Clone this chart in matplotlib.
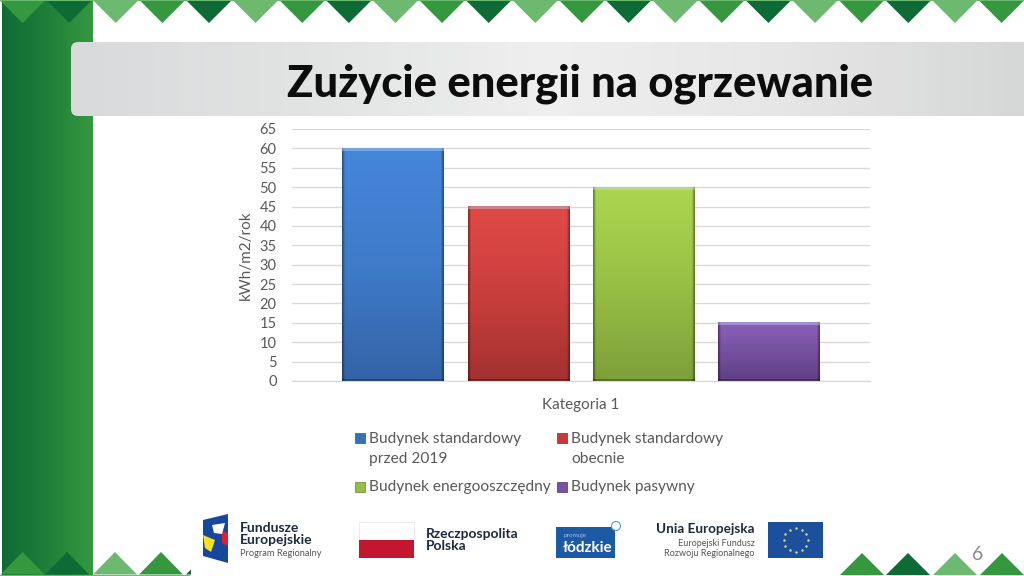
import matplotlib
import matplotlib.pyplot as plt
import numpy as np
from matplotlib.colors import LinearSegmentedColormap
from matplotlib.patches import FancyBboxPatch, Polygon, Rectangle

matplotlib.use("agg")

plt.rcParams["font.family"] = ["Lato", "DejaVu Sans"]

# chart data
series_names = [
    "Budynek standardowy\nprzed 2019",
    "Budynek standardowy\nobecnie",
    "Budynek energooszczędny",
    "Budynek pasywny",
]
series_values = [60, 45, 50, 15]
category_label = "Kategoria 1"
y_ticks = list(range(0, 70, 5))
y_label = "kWh/m2/rok"
title = "Zużycie energii na ogrzewanie"

# bar shading, top to bottom
bar_shades = [
    ["#4586da", "#3f7bc9", "#3464a6"],
    ["#e04a46", "#c93f3d", "#a33130"],
    ["#acd650", "#98c045", "#7d9f3a"],
    ["#8c5fba", "#77509f", "#5f3f85"],
]
legend_colors = ["#3a70b5", "#c23a3a", "#98bf45", "#7a52a5"]
legend_spots = [(355, 438), (557, 438), (355, 487), (557, 487)]

TRIANGLES = ["#35983f", "#0f6b35", "#6db96f"]


def draw_gradient(ax, extent, colors, horizontal=False, clip=None, zorder=1):
    cmap = LinearSegmentedColormap.from_list("grad", colors)
    grad = np.linspace(0, 1, 256)
    grad = grad[None, :] if horizontal else grad[:, None]
    im = ax.imshow(grad, extent=extent, cmap=cmap, aspect="auto", zorder=zorder,
                   interpolation="bilinear")
    if clip is not None:
        im.set_clip_path(clip)
    return im


def shaded_bar(ax, rect, colors, px_w, px_h):
    """
    Paint a bar with a vertical gradient, dark sides and a light top edge
    """
    cmap = LinearSegmentedColormap.from_list("bar", colors)
    rows = int(px_h)
    cols = int(px_w)
    img = cmap(np.linspace(0, 1, rows))[:, None, :3].repeat(cols, axis=1)
    side = np.ones(cols)
    side[:3] = [0.62, 0.75, 0.9]
    side[-3:] = [0.9, 0.75, 0.62]
    img = img * side[None, :, None]
    img[:3] = img[:3] * 0.6 + 0.4 * np.array([0.75, 0.85, 0.95])
    img[-2:] = img[-2:] * 0.7
    left, width = rect.get_x(), rect.get_width()
    ax.imshow(np.clip(img, 0, 1), extent=(left, left + width, 0, rect.get_height()),
              aspect="auto", zorder=2, interpolation="nearest")


fig = plt.figure(figsize=(10.24, 5.76), dpi=100, facecolor="white")

#   Slide decoration, in pixel coordinates
bg = fig.add_axes([0, 0, 1, 1])
bg.set_axis_off()

draw_gradient(bg, (1.5, 92.5, 576, 0), ["#0f6b35", "#1f7f3a", "#35983f"], horizontal=True)

# top row of triangles
for i in range(22):
    left = 0.5 + i * 46.62
    bg.add_patch(Polygon([(left, 1), (left + 44, 1), (left + 22, 23)],
                         color=TRIANGLES[i % 3], lw=0, zorder=2))
bg.add_patch(Rectangle((0, 0), 1024, 1.2, color="#6db96f", lw=0, zorder=3))

# bottom left triangles
for left, color in zip([0.5, 45, 93, 139, 186], TRIANGLES * 2):
    bg.add_patch(Polygon([(left, 574.5), (left + 44, 574.5), (left + 22, 552)], color=color, lw=0, zorder=2))
bg.add_patch(Rectangle((0, 574.5), 190, 1.5, color="#6db96f", lw=0, zorder=3))
bg.add_patch(Rectangle((191, 540), 640, 36, color="white", lw=0, zorder=3))

# bottom right triangles
for left, color in zip([840, 886, 933, 980], TRIANGLES + TRIANGLES[:1]):
    bg.add_patch(Polygon([(left, 575), (left + 44, 575), (left + 22, 553)], color=color, lw=0, zorder=2))

# title bar
bar = FancyBboxPatch((71, 42), 975, 74, boxstyle="round,pad=0,rounding_size=7",
                     mutation_aspect=1, fc="none", ec="none", zorder=4)
bg.add_patch(bar)
draw_gradient(bg, (71, 1024, 116, 41), ["#d9dadb", "#e2e3e3", "#efefef", "#e6e6e6", "#d6d7d7"],
              horizontal=True, clip=bar, zorder=4)
bg.text(580.5, 84, title, ha="center", va="center", fontsize=31.3, fontweight=900,
        color="#0c0c0c", zorder=5)

# page number
bg.text(978, 554, "6", ha="center", va="center", fontsize=14, color="#8a8a8a", zorder=5)

# Fundusze Europejskie logo
bg.add_patch(Polygon([(203, 520), (228, 514), (228, 563), (203, 556)], color="#17469e", lw=0, zorder=5))
bg.add_patch(Polygon([(203, 535), (215, 540), (211, 552), (205, 548)], color="#f5e11c", lw=0, zorder=6))
bg.add_patch(Polygon([(222, 531), (228, 533), (228, 546), (222, 543)], color="#d9232e", lw=0, zorder=6))
bg.add_patch(Polygon([(212, 525), (225, 523), (222, 534), (214, 533)], color="#ffffff", lw=0, zorder=6))
bg.text(240, 528, "Fundusze", fontsize=10, fontweight="bold", color="#1b2a3c", va="center", zorder=6)
bg.text(240, 540.5, "Europejskie", fontsize=10, fontweight="bold", color="#1b2a3c", va="center", zorder=6)
bg.text(240, 554, "Program Regionalny", fontsize=6.7, color="#555555", va="center", zorder=6)

# Polish flag
bg.add_patch(Rectangle((359, 522), 55, 18, fc="white", ec="#e6e6e6", lw=0.6, zorder=5))
bg.add_patch(Rectangle((359, 540), 55, 18, color="#c4162f", lw=0, zorder=5))
bg.text(426, 534, "Rzeczpospolita", fontsize=10, fontweight="bold", color="#1b2a3c", va="center", zorder=6)
bg.text(426, 546.5, "Polska", fontsize=10, fontweight="bold", color="#1b2a3c", va="center", zorder=6)

# lodzkie logo
bg.add_patch(Rectangle((556, 527), 59, 31, color="#1d5aa5", lw=0, zorder=5))
bg.text(563, 535, "promuje", fontsize=4.5, color="#9cc3e8", va="center", zorder=6)
bg.text(563, 548, "łódzkie", fontsize=11, fontweight="bold", color="white", va="center", zorder=6)
bg.add_patch(plt.Circle((616, 526), 4.5, fc="white", ec="#5a9ad5", lw=0.8, zorder=6))

# EU logo
bg.text(755, 529, "Unia Europejska", fontsize=9.7, fontweight="bold", color="#1b2a3c", ha="right", va="center", zorder=6)
bg.text(755, 543, "Europejski Fundusz", fontsize=6.5, color="#555555", ha="right", va="center", zorder=6)
bg.text(755, 553, "Rozwoju Regionalnego", fontsize=6.5, color="#555555", ha="right", va="center", zorder=6)
bg.add_patch(Rectangle((768, 522), 55, 36, color="#1c4f9c", lw=0, zorder=5))
angles = np.arange(12) * np.pi / 6
bg.scatter(795.5 + 12 * np.cos(angles), 540 + 12 * np.sin(angles), s=3, color="#e8e36a", lw=0, zorder=6)

# legend, the second line of a label hangs under the first as in the slide
for (lx, ly), name, color, edge in zip(legend_spots, series_names, legend_colors, ["#2a5488", "#832a29", "#667f31", "#4b3269"]):
    bg.add_patch(Rectangle((lx, ly - 5), 10, 10, fc=color, ec=edge, lw=0.5, zorder=6))
    bg.text(lx + 14, ly - 6.5, name, fontsize=11.2, color="#595959", va="top", ha="left",
            linespacing=1.58, zorder=6)

bg.set_xlim(0, 1024)
bg.set_ylim(576, 0)

#   Chart
ax = fig.add_axes([292 / 1024, 1 - 381 / 576, (870 - 292) / 1024, (381 - 129) / 576], zorder=10)
ax.patch.set_alpha(0)
x = np.arange(len(series_values))
bars = ax.bar(x, series_values, width=0.81, color="none", zorder=3)

for rect, shades in zip(bars, bar_shades):
    px_h = rect.get_height() * 252 / 65
    shaded_bar(ax, rect, shades, 102, px_h)

ax.set_xlim(-0.806, 3.807)
ax.set_ylim(0, 65)
ax.set_yticks(y_ticks)
ax.set_xticks([])
ax.grid(axis="y", color="#d9d9d9", lw=1.0, zorder=0)
ax.set_axisbelow(True)
for side in ["top", "right", "left"]:
    ax.spines[side].set_visible(False)
ax.spines["bottom"].set_color("#d9d9d9")
ax.tick_params(axis="y", length=0, labelsize=10.5, labelcolor="#595959", pad=11)
ax.set_ylabel(y_label, fontsize=11, color="#595959", labelpad=5)
ax.set_xlabel(category_label, fontsize=11, color="#595959", labelpad=12)

fig.savefig("out.png", dpi=100)
